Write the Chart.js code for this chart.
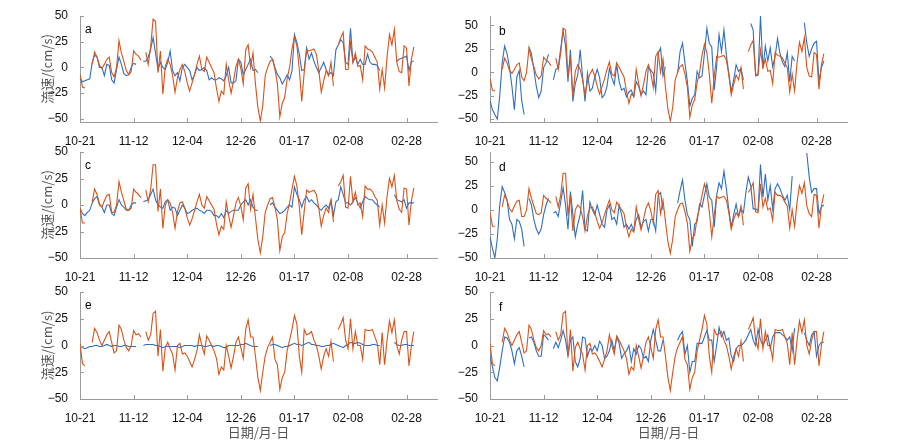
<!DOCTYPE html>
<html><head><meta charset="utf-8">
<script src="https://cdn.jsdelivr.net/npm/chart.js@4.4.0/dist/chart.umd.min.js"></script>
<style>
html,body{margin:0;padding:0;background:#fff;}
body{width:899px;height:447px;position:relative;overflow:hidden;}
canvas{position:absolute;}
</style></head><body>
<script>
// ---------- data ----------
const tickDays = [0, 22, 44, 66, 88, 110, 134];
const tickLabels = ['10-21', '11-12', '12-04', '12-26', '01-17', '02-08', '02-28'];
const yTicks = [-50, -25, 0, 25, 50];

const orange1 = [-7,-19,-20,null,null,3,15,10,2,-1,
3,8,10,-5,-9,0,26,14,6,-3,
-7,-4,16,13,11,7,null,15,3,20,
47,45,-5,16,-26,1,8,3,-8,-24,
-10,-2,3,-4,-15,-23,-15,-7,3,11,
-2,-4,10,5,0,-5,-20,-33,-23,-26,
3,-12,-25,-13,1,8,-1,-16,17,22,
0,14,-16,-39,-52,-37,-8,0,6,8,
-2,-16,-48,-35,-29,-11,0,18,30,21,
-2,-33,-5,17,16,17,18,13,-3,-24,
-13,-3,-8,5,-18,null,22,29,34,-2,
-2,24,5,14,1,2,-12,21,18,17,
15,10,5,-21,-2,-20,10,32,22,37,
5,-4,-5,21,19,-18,8,20];

const orange2 = [-3,-17,-17,null,null,3,15,10,1,-2,
4,9,10,-7,-7,0,22,12,4,-4,
-5,-3,15,12,10,7,null,14,3,15,
38,38,-6,15,-22,0,5,2,-7,-22,
-6,2,3,-3,-12,-19,-13,-5,3,10,
0,-3,8,4,0,-4,-18,-28,-20,-23,
3,-10,-21,-10,2,7,-1,-14,16,20,
-4,10,-12,-33,-45,-30,-7,0,6,7,
-2,-14,-43,-30,-26,-8,2,15,27,18,
-2,-28,-6,14,12,13,14,10,-3,-20,
-10,-3,-7,4,-16,null,18,22,28,-2,
-3,27,3,12,0,2,-11,18,15,15,
13,8,4,-19,0,-17,8,25,17,28,
4,-4,-7,16,15,-19,4,16];

const orange3 = [2,-17,-19,null,null,3,16,12,5,0,
5,10,13,3,-7,-5,19,15,5,-2,
-5,0,14,10,11,8,null,13,5,10,
30,32,-10,15,-24,-2,3,-3,-8,-23,
0,2,-8,-7,-10,-15,-20,-13,-5,10,
0,-8,9,5,0,-5,-12,-27,-20,-23,
0,-10,-21,-10,3,8,-2,-12,15,24,
8,8,-10,-30,-42,-25,-10,-2,3,8,
-13,-18,-41,-30,-25,-5,5,15,28,20,
-10,-25,15,10,11,13,5,0,-10,-22,
-10,-3,-10,4,-15,null,15,20,26,5,
-3,25,-3,13,0,0,-13,15,14,14,
15,8,2,-18,12,-18,5,23,12,24,
0,-8,5,13,13,-19,0,13];

const blueA = [-10,-14,-13,-12,-11,5,12,10,0,0,
-8,3,2,-12,-15,-2,10,3,-6,-8,
-7,0,4,3,null,null,6,6,10,18,
29,14,-2,5,0,-2,5,16,-3,-8,
-5,-13,0,3,0,-3,-12,-7,0,-3,
-2,0,-3,-12,-10,-12,-12,-10,-11,-13,
-8,0,-15,-15,-13,8,5,-7,-2,3,
8,-3,-2,-5,null,null,null,null,11,8,
0,-7,-10,-16,-12,-7,-12,-3,32,24,
13,-3,-2,19,8,14,6,0,-5,0,
5,-2,-7,-5,-8,17,22,27,24,5,
3,38,5,10,3,8,3,3,13,5,
3,3,2,-3,null,null,null,null,null,null,
6,8,9,10,11,-3,6,6];

const blueB = [-30,-40,-45,-50,-25,10,28,20,5,-15,
-40,-5,2,-30,-45,null,27,20,3,-15,
-27,-20,5,10,19,null,-8,3,5,25,
44,28,-10,24,-31,-12,-3,24,-5,-31,
-1,-20,-17,-5,3,-6,-27,-24,-15,4,
-6,-13,8,-10,-19,-17,-26,-21,-19,-26,
-10,-15,-24,-20,-24,6,2,-1,-20,20,
26,-4,6,null,null,null,null,-1,22,31,
10,-10,-36,-28,-24,1,-6,-4,20,47,
31,27,-19,6,40,22,45,18,-1,-20,
-8,8,1,4,-8,null,null,52,45,-4,
-3,60,4,28,12,26,6,17,36,20,
11,6,21,-10,17,12,null,null,null,53,
31,17,25,31,33,-10,5,12];

const blueC = [-3,-8,-10,-7,-5,2,6,8,0,-2,
-7,0,0,-8,-10,-2,5,0,-2,-5,
-5,0,2,2,null,null,3,4,5,10,
15,5,0,-2,-3,3,5,-5,-2,-3,
-10,-5,0,-3,-8,-7,-5,-4,-3,-5,
-6,-8,-5,-5,-6,-10,-10,-12,-8,-12,
-5,-8,-6,-5,-5,-5,0,3,5,0,
5,-2,-5,-5,null,null,null,null,0,2,
-2,-5,-8,-7,-5,-2,0,-2,17,10,
5,-2,5,8,3,5,2,0,-3,-5,
-2,0,-3,5,-10,3,5,17,10,2,
2,0,3,7,2,-3,3,8,6,5,
5,2,0,-2,null,null,null,null,null,10,
5,4,3,5,-3,2,2,2];

const blueD = [-28,-40,-50,-30,5,24,18,10,-10,-15,
-30,-10,-12,-20,-38,null,12,5,-10,-20,
-25,-20,-5,5,12,null,-3,-2,-7,8,
23,5,-20,19,-5,-28,-15,-5,20,-20,
-22,8,0,-5,5,-5,-15,-18,0,5,
-10,-8,-15,5,-5,-18,-15,-20,-15,-22,
-10,-5,-18,-12,-10,-22,-10,-10,-22,15,
18,0,null,null,null,null,null,7,20,31,
10,-5,-10,-38,-15,-12,6,3,15,27,
13,10,-18,15,28,22,40,22,0,-18,
-5,6,-7,1,-3,18,34,25,1,1,
-1,47,13,37,10,25,1,22,27,22,
15,10,15,0,35,null,null,null,null,null,
59,34,18,22,22,-4,3,5];

const blueE = [0,-2,-3,-2,-1,-1,0,0,-1,-1,
0,1,0,-1,0,0,-1,-1,0,0,
-1,-1,-1,-1,null,null,0,1,1,1,
1,0,0,-1,-2,-1,-1,-1,-1,-1,
-1,-2,-1,0,0,0,0,-1,0,0,
0,-1,-1,0,0,-1,0,0,-1,-2,
-2,0,0,0,0,0,1,1,2,1,
0,-1,-1,-1,null,null,null,null,0,1,
1,0,-1,-2,-1,-1,0,1,2,1,
1,0,1,2,3,1,1,0,0,-1,
-1,0,0,1,2,1,0,-1,-2,0,
1,3,2,2,3,2,1,0,0,0,
1,1,0,0,null,null,null,null,null,3,
1,0,0,1,1,0,0,0];

const blueF = [-10,-20,-30,-33,-20,-5,8,7,3,-5,
-17,-5,-2,-10,-20,null,7,8,3,-5,
-10,-10,10,8,5,null,-3,3,-2,5,
14,5,-10,5,8,-15,-20,-12,8,7,
-10,-3,-5,0,-5,4,0,-12,-10,-5,
5,-5,8,2,-12,-8,-5,0,-15,-3,
-8,0,-3,-12,-10,-15,5,15,5,-5,
-5,5,null,null,null,null,null,5,10,13,
-8,0,-25,-15,-15,2,2,2,8,14,
5,5,-15,0,17,8,13,5,7,-10,
-15,-3,0,0,2,5,10,15,5,0,
15,5,0,5,10,-3,8,12,12,12,
10,8,5,8,-5,16,null,null,null,12,
5,0,10,13,-10,0,3,3];

// ---------- style / layout ----------
const BLUE = '#2f6fc2';
const ORANGE = '#d95319';
const AXIS = '#9a9a9a';
const TICKFONT = {family: '"Liberation Sans", Arial, Helvetica, sans-serif', size: 12};
const CJK = '"Noto Sans CJK SC", "Noto Sans", sans-serif';

const cols = [{left: 80, w: 357}, {left: 490, w: 357}];
const rows = [{top: 16, h: 106, pad: 24}, {top: 152, h: 106, pad: 24}, {top: 292, h: 107, pad: 48}];

const panels = [
  {letter: 'a', col: 0, row: 0, blue: blueA, orange: orange1, ymin: -53, ymax: 50},
  {letter: 'b', col: 1, row: 0, blue: blueB, orange: orange1, ymin: -53, ymax: 60},
  {letter: 'c', col: 0, row: 1, blue: blueC, orange: orange2, ymin: -50, ymax: 50},
  {letter: 'd', col: 1, row: 1, blue: blueD, orange: orange2, ymin: -50, ymax: 60},
  {letter: 'e', col: 0, row: 2, blue: blueE, orange: orange3, ymin: -50, ymax: 50},
  {letter: 'f', col: 1, row: 2, blue: blueF, orange: orange3, ymin: -50, ymax: 50}
];

const YW = 50, PT = 12, PR = 12;

const decor = {
  id: 'decor',
  afterDraw(chart, args, opts) {
    const {ctx, chartArea: a, scales: {x, y}} = chart;
    ctx.save();
    ctx.strokeStyle = AXIS; ctx.lineWidth = 1;
    ctx.beginPath();
    tickDays.forEach(v => {
      const px = Math.round(x.getPixelForValue(v)) + 0.5;
      ctx.moveTo(px, a.bottom); ctx.lineTo(px, a.bottom - 4);
    });
    yTicks.forEach(v => {
      if (v < y.min || v > y.max) return;
      const py = Math.round(y.getPixelForValue(v)) + 0.5;
      ctx.moveTo(a.left, py); ctx.lineTo(a.left + 4, py);
    });
    ctx.stroke();
    ctx.fillStyle = '#000';
    ctx.font = '12px "Liberation Sans", Arial, sans-serif';
    ctx.textBaseline = 'middle'; ctx.textAlign = 'left';
    ctx.fillText(opts.letter, a.left + opts.lx, a.top + opts.ly);
    ctx.restore();
  }
};

panels.forEach(p => {
  const c = cols[p.col], r = rows[p.row];
  const cv = document.createElement('canvas');
  const W = c.w + YW + PR, H = r.h + PT + r.pad;
  cv.width = W; cv.height = H;
  cv.style.left = (c.left - YW) + 'px';
  cv.style.top = (r.top - PT) + 'px';
  cv.style.width = W + 'px'; cv.style.height = H + 'px';
  document.body.appendChild(cv);
  const pts = arr => arr.map((v, i) => ({x: i, y: v}));
  new Chart(cv, {
    type: 'line',
    data: {
      datasets: [
        {data: pts(p.orange), borderColor: ORANGE, borderWidth: 1.1, pointRadius: 0, tension: 0, spanGaps: false},
        {data: pts(p.blue), borderColor: BLUE, borderWidth: 1.1, pointRadius: 0, tension: 0, spanGaps: false}
      ]
    },
    options: {
      responsive: false, animation: false, devicePixelRatio: 1,
      layout: {padding: {top: PT, right: PR, left: 0, bottom: 0}},
      plugins: {legend: {display: false}, tooltip: {enabled: false},
        decor: {letter: p.letter, lx: p.col === 0 ? 5 : 9, ly: p.col === 0 ? 14 : 16}},
      scales: {
        x: {
          type: 'linear', min: 0, max: 146.5,
          afterBuildTicks: s => { s.ticks = tickDays.map(v => ({value: v})); },
          afterFit: s => { s.height = r.pad; },
          grid: {display: false},
          border: {display: true, color: AXIS, width: 1},
          ticks: {autoSkip: false, maxRotation: 0, padding: 4, color: '#111', font: TICKFONT,
            callback: v => tickLabels[tickDays.indexOf(v)]},
          title: {display: p.row === 2, text: '日期/月-日', color: '#555',
            font: {family: CJK, size: 13}, padding: {top: 0, bottom: 7}}
        },
        y: {
          min: p.ymin, max: p.ymax,
          afterBuildTicks: s => { s.ticks = yTicks.map(v => ({value: v})); },
          afterFit: s => { s.width = YW; },
          grid: {display: false},
          border: {display: true, color: AXIS, width: 1},
          ticks: {padding: 4, color: '#111', font: TICKFONT,
            callback: v => (v < 0 ? '\u2212' + Math.abs(v) : String(v))},
          title: {display: p.col === 0, text: '流速/(cm/s)', color: '#555',
            font: {family: CJK, size: 13}, padding: {top: 9, bottom: 0}}
        }
      }
    },
    plugins: [decor]
  });
});
</script>
</body></html>
